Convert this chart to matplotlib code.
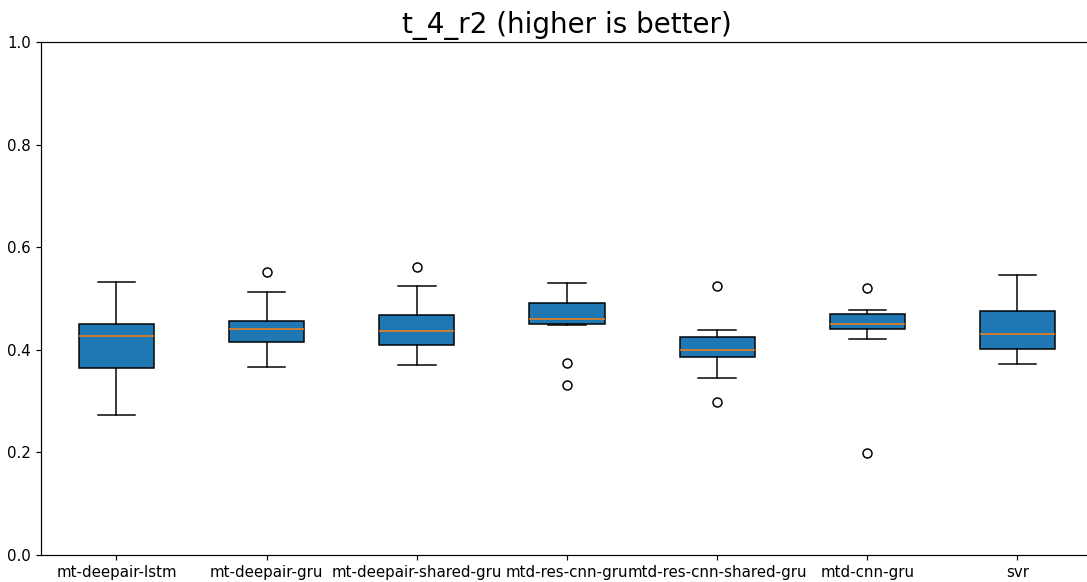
import matplotlib
matplotlib.use("Agg")
import matplotlib.pyplot as plt

models = ["mt-deepair-lstm", "mt-deepair-gru", "mt-deepair-shared-gru",
          "mtd-res-cnn-gru", "mtd-res-cnn-shared-gru", "mtd-cnn-gru", "svr"]

# box statistics
whisker_low = [0.273, 0.367, 0.370, 0.449, 0.344, 0.420, 0.373]
q1 = [0.365, 0.415, 0.409, 0.451, 0.385, 0.441, 0.402]
median = [0.427, 0.441, 0.436, 0.459, 0.399, 0.450, 0.431]
q3 = [0.450, 0.456, 0.467, 0.491, 0.425, 0.470, 0.475]
whisker_high = [0.532, 0.512, 0.525, 0.530, 0.438, 0.478, 0.546]
outliers = [[], [0.551], [0.562], [0.375, 0.331], [0.525, 0.299], [0.520, 0.199], []]

stats = []
for i, name in enumerate(models):
    stats.append({
        "label": name,
        "whislo": whisker_low[i],
        "q1": q1[i],
        "med": median[i],
        "q3": q3[i],
        "whishi": whisker_high[i],
        "fliers": outliers[i],
    })

dpi = 108
fig = plt.figure(figsize=(1087 / dpi, 582 / dpi), dpi=dpi)
ax = fig.add_axes([0.0381, 0.0464, 0.967, 0.8816])
ax.bxp(stats, patch_artist=True, widths=0.5,
       boxprops=dict(facecolor="#1f77b4", edgecolor="black"))
ax.set_ylim(0, 1.0)
ax.set_title("t_4_r2 (higher is better)", fontsize=18.5)
ax.tick_params(labelsize=10)

fig.savefig("out.png", dpi=dpi)
